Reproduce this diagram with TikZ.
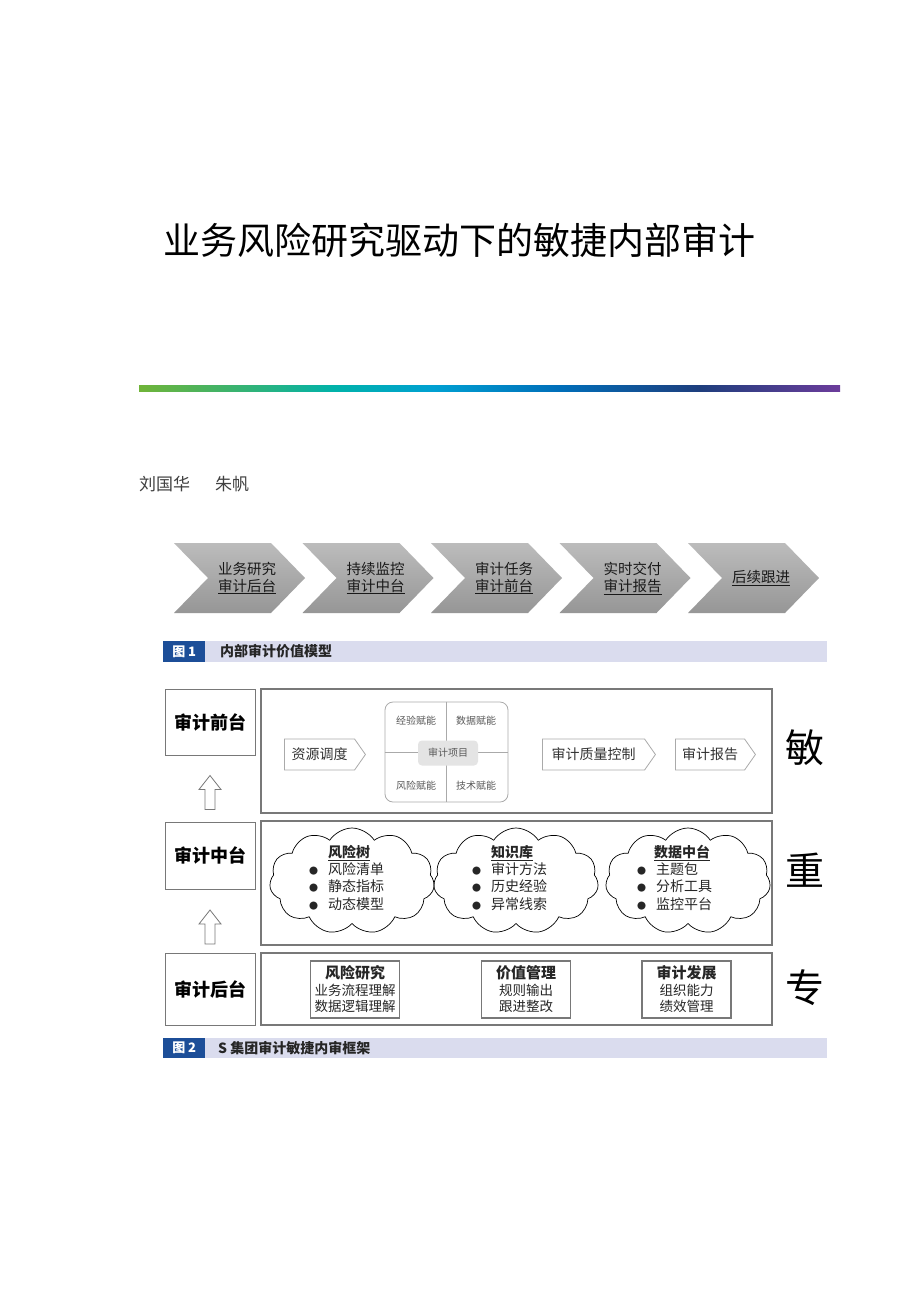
\documentclass[tikz,border=0pt]{standalone}
\usepackage{fontspec}
\setmainfont{Noto Sans CJK SC}
\usetikzlibrary{shapes.symbols, calc}
\definecolor{chevtop}{RGB}{188,188,188}
\definecolor{chevbot}{RGB}{150,150,150}
\definecolor{framegray}{RGB}{120,120,120}
\definecolor{softgray}{RGB}{170,170,170}
\definecolor{hubgray}{RGB}{228,228,228}
\definecolor{capband}{RGB}{218,220,238}
\definecolor{capblue}{RGB}{28,78,152}
\definecolor{barA}{RGB}{112,180,56}
\definecolor{barB}{RGB}{0,178,170}
\definecolor{barC}{RGB}{0,160,210}
\definecolor{barD}{RGB}{0,110,185}
\definecolor{barE}{RGB}{30,62,125}
\definecolor{barF}{RGB}{108,60,155}
\pgfdeclarehorizontalshading{titlebar}{100bp}{color(0bp)=(barA); color(25bp)=(barA); color(39bp)=(barB); color(46bp)=(barC); color(55bp)=(barD); color(65bp)=(barE); color(75bp)=(barF); color(100bp)=(barF)}
\newcommand\cloudbullet{\makebox[19pt][l]{\fontsize{9}{9}\selectfont ●}}

\begin{document}
\begin{tikzpicture}[x=1pt, y=-1pt,
    txt/.style={inner sep=0, text=black!85},
    chevtext/.style={txt, font=\fontsize{14.5}{17}\selectfont, text=black!90, align=center},
    captag/.style={fill=capblue, text=white, font=\bfseries\fontsize{13}{13}\selectfont, minimum width=42, minimum height=21, inner sep=0, anchor=west},
    captext/.style={txt, font=\bfseries\fontsize{14}{14}\selectfont, anchor=west},
    sidebox/.style={draw=framegray, line width=0.8, minimum width=90, font=\bfseries\fontsize{18}{18}\selectfont},
    rowbox/.style={draw=framegray, line width=1.6, minimum width=511},
    sigbox/.style={shape=signal, signal to=east, signal pointer angle=110, draw=softgray, line width=0.8, minimum height=31, font=\fontsize{14}{14}\selectfont, text=black!80},
    quadtext/.style={txt, font=\fontsize{10}{10}\selectfont, text=black!65},
    cloudbox/.style={shape=cloud, cloud puffs=11, cloud puff arc=115, aspect=1.5, draw=black, line width=0.7, minimum width=165, minimum height=106},
    cloudtitle/.style={txt, font=\bfseries\fontsize{14}{14}\selectfont},
    cloudlist/.style={txt, font=\fontsize{14}{17.5}\selectfont, align=left, anchor=north west},
    platebox/.style={draw=framegray, line width=1.2, minimum width=89, minimum height=57, align=center, font=\fontsize{13.5}{16.5}\selectfont, text=black!85},
    bigchar/.style={txt, font=\fontsize{39}{39}\selectfont, text=black}
  ]
\useasboundingbox (0,0) rectangle (920,1302);
\fill[white] (0,0) rectangle (920,1302);

% Title and authors
\node[txt, anchor=west, font=\fontsize{37}{37}\selectfont, text=black] (title) at (163,240) {业务风险研究驱动下的敏捷内部审计};
\shade[shading=titlebar] (139,385) rectangle (840,391);
\node[txt, anchor=west, font=\fontsize{17}{17}\selectfont, text=black!75] (authors) at (139,484) {刘国华\hspace{25pt}朱帆};

% Figure 1: chevron chain
\foreach \i/\lbl in {0/{业务研究\\\underline{审计后台}}, 1/{持续监控\\\underline{审计中台}}, 2/{审计任务\\\underline{审计前台}}, 3/{实时交付\\\underline{审计报告}}, 4/{\underline{后续跟进}}} {
  \shade[top color=chevtop, bottom color=chevbot] ({174+128.5*\i},543) -- ++(97,0) -- ++(34,35) -- ++(-34,35) -- ++(-97,0) -- ++(34,-35) -- cycle;
  \node[chevtext] (chain\i) at ({174+128.5*\i+73},578) {\lbl};
}
\fill[capband] (163,641) rectangle (827,662);
\node[captag] (fig1tag) at (163,651.5) {图 1};
\node[captext] (fig1cap) at (220,651.5) {内部审计价值模型};

% Figure 2: side labels
\node[sidebox, minimum height=66] (fronttag) at (210,722) {审计前台};
\node[sidebox, minimum height=67] (midtag) at (210,855.5) {审计中台};
\node[sidebox, minimum height=72] (backtag) at (210,989) {审计后台};
\coordinate (up1) at ($(fronttag.south)!0.5!(midtag.north)+(0,4)$);
\coordinate (up2) at ($(midtag.south)!0.5!(backtag.north)+(0,6)$);
\foreach \c in {up1,up2}
  \draw[framegray, line width=0.8] ($(\c)+(-5,17)$) -- ++(0,-20) -- ++(-6,0) -- ++(11,-14) -- ++(11,14) -- ++(-6,0) -- ++(0,20) -- cycle;

% Rows
\node[rowbox, minimum height=124] (frontrow) at (516.5,751) {};
\node[rowbox, minimum height=124] (midrow) at (516.5,883) {};
\node[rowbox, minimum height=72] (backrow) at (516.5,989) {};

% Front row
\node[sigbox, minimum width=81] (dispatch) at (319.5,754.5) {资源调度};
\node[draw=softgray, line width=0.8, rounded corners=8, minimum width=123, minimum height=100] (quad) at (446.5,752) {};
\draw[softgray, line width=0.8] (quad.north) -- (quad.south);
\draw[softgray, line width=0.8] (quad.west) -- (quad.east);
\node[quadtext, fill=hubgray, rounded corners=4, minimum width=60, minimum height=25] (hub) at (448,753) {审计项目};
\node[quadtext] (exp) at (416,721) {经验赋能};
\node[quadtext] (data) at (476,721) {数据赋能};
\node[quadtext] (risk) at (416,786) {风险赋能};
\node[quadtext] (tech) at (476,786) {技术赋能};
\node[sigbox, minimum width=113] (quality) at (593.5,754.5) {审计质量控制};
\node[sigbox, minimum width=80] (report) at (710,754.5) {审计报告};

% Middle row
\node[cloudbox] (risktree) at (352,881) {};
\node[cloudbox] (knowledge) at (516,881) {};
\node[cloudbox] (datahub) at (688,881) {};
\node[cloudtitle] (risktreet) at (349,853) {\underline{风险树}};
\node[cloudtitle] (knowledget) at (512,853) {\underline{知识库}};
\node[cloudtitle] (datahubt) at (682,853) {\underline{数据中台}};
\node[cloudlist] (risktreel) at (309,862) {\cloudbullet 风险清单\\\cloudbullet 静态指标\\\cloudbullet 动态模型};
\node[cloudlist] (knowledgel) at (472,862) {\cloudbullet 审计方法\\\cloudbullet 历史经验\\\cloudbullet 异常线索};
\node[cloudlist] (datahubl) at (637,862) {\cloudbullet 主题包\\\cloudbullet 分析工具\\\cloudbullet 监控平台};

% Back row
\node[platebox] (research) at (355,989.5) {{\bfseries\fontsize{15}{17}\selectfont 风险研究}\\业务流程理解\\数据逻辑理解};
\node[platebox] (value) at (526,989.5) {{\bfseries\fontsize{15}{17}\selectfont 价值管理}\\规则输出\\跟进整改};
\node[platebox] (growth) at (686.5,989.5) {{\bfseries\fontsize{15}{17}\selectfont 审计发展}\\组织能力\\绩效管理};

% Right column
\node[bigchar] (agile) at (805,748) {敏};
\node[bigchar] (heavy) at (805,870) {重};
\node[bigchar] (expert) at (805,988) {专};

\fill[capband] (163,1038) rectangle (827,1058);
\node[captag, minimum height=20] (fig2tag) at (163,1048) {图 2};
\node[captext] (fig2cap) at (218,1048) {S 集团审计敏捷内审框架};
\end{tikzpicture}
\end{document}
